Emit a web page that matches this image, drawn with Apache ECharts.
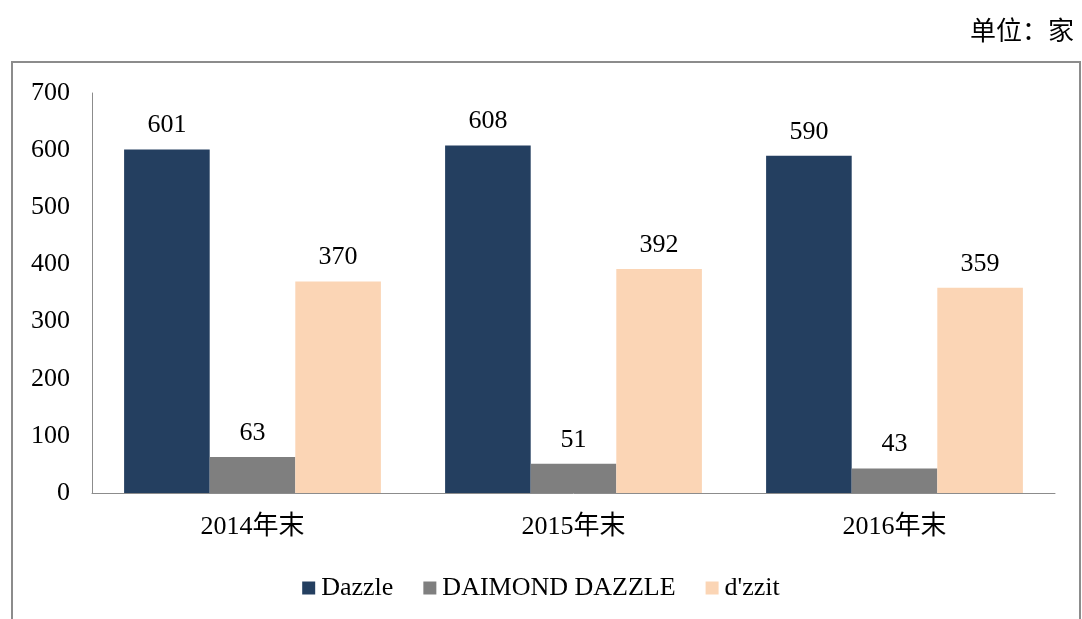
<!DOCTYPE html>
<html>
<head>
<meta charset="utf-8">
<script src="https://cdn.jsdelivr.net/npm/echarts@6/dist/echarts.min.js"></script>
<style>
  html, body { margin: 0; padding: 0; background: #fff; }
  #chart { width: 1082px; height: 619px; }
</style>
</head>
<body>
<div id="chart"></div>
<script>
// categories and series values
const categories = ["2014年末", "2015年末", "2016年末"];
const dazzle = [601, 608, 590];
const daimondDazzle = [63, 51, 43];
const dzzit = [370, 392, 359];
const seriesNames = ["Dazzle", "DAIMOND DAZZLE", "d'zzit"];

const fontFamily = "'Liberation Serif', 'Noto Sans CJK SC', serif";
const colors = ["#243f60", "#7f7f7f", "#fbd5b5"];

const myChart = echarts.init(document.getElementById("chart"));

function barSeries(name, data, color) {
  return {
    name: name,
    type: "bar",
    data: data,
    barGap: "0%",
    barCategoryGap: "20%",
    itemStyle: { color: color },
    label: {
      show: true,
      position: "top",
      distance: 11,
      color: "#000",
      fontFamily: fontFamily,
      fontSize: 26,
    },
  };
}

const option = {
  animation: false,
  title: {
    text: "单位：家",
    right: 3,
    top: 15,
    textStyle: {
      fontFamily: fontFamily,
      fontSize: 26,
      fontWeight: "normal",
      color: "#000",
    },
  },
  graphic: [
    {
      type: "rect",
      shape: { x: 12, y: 62, width: 1068, height: 570 },
      style: { fill: "none", stroke: "#8c8c8c", lineWidth: 2 },
      silent: true,
    },
  ],
  legend: {
    top: 570,
    left: "center",
    itemWidth: 13,
    itemHeight: 13,
    itemGap: 30,
    icon: "rect",
    textStyle: {
      fontFamily: fontFamily,
      fontSize: 26,
      color: "#000",
      padding: [0, 0, 0, 1],
    },
    data: seriesNames,
  },
  grid: {
    left: 92,
    right: 27,
    top: 93,
    bottom: 126,
    containLabel: false,
  },
  xAxis: {
    type: "category",
    data: categories,
    axisLine: { lineStyle: { color: "#8c8c8c", width: 1 } },
    axisTick: { show: false },
    axisLabel: {
      color: "#000",
      fontFamily: fontFamily,
      fontSize: 26,
      margin: 21,
    },
  },
  yAxis: {
    type: "value",
    min: 0,
    max: 700,
    interval: 100,
    axisLine: { show: true, lineStyle: { color: "#8c8c8c", width: 1 } },
    axisTick: { show: false },
    splitLine: { show: false },
    axisLabel: {
      color: "#000",
      fontFamily: fontFamily,
      fontSize: 26,
      margin: 22,
    },
  },
  series: [
    barSeries(seriesNames[0], dazzle, colors[0]),
    barSeries(seriesNames[1], daimondDazzle, colors[1]),
    barSeries(seriesNames[2], dzzit, colors[2]),
  ],
};

option && myChart.setOption(option);
window.addEventListener("resize", () => {
  myChart.resize();
});
</script>
</body>
</html>
